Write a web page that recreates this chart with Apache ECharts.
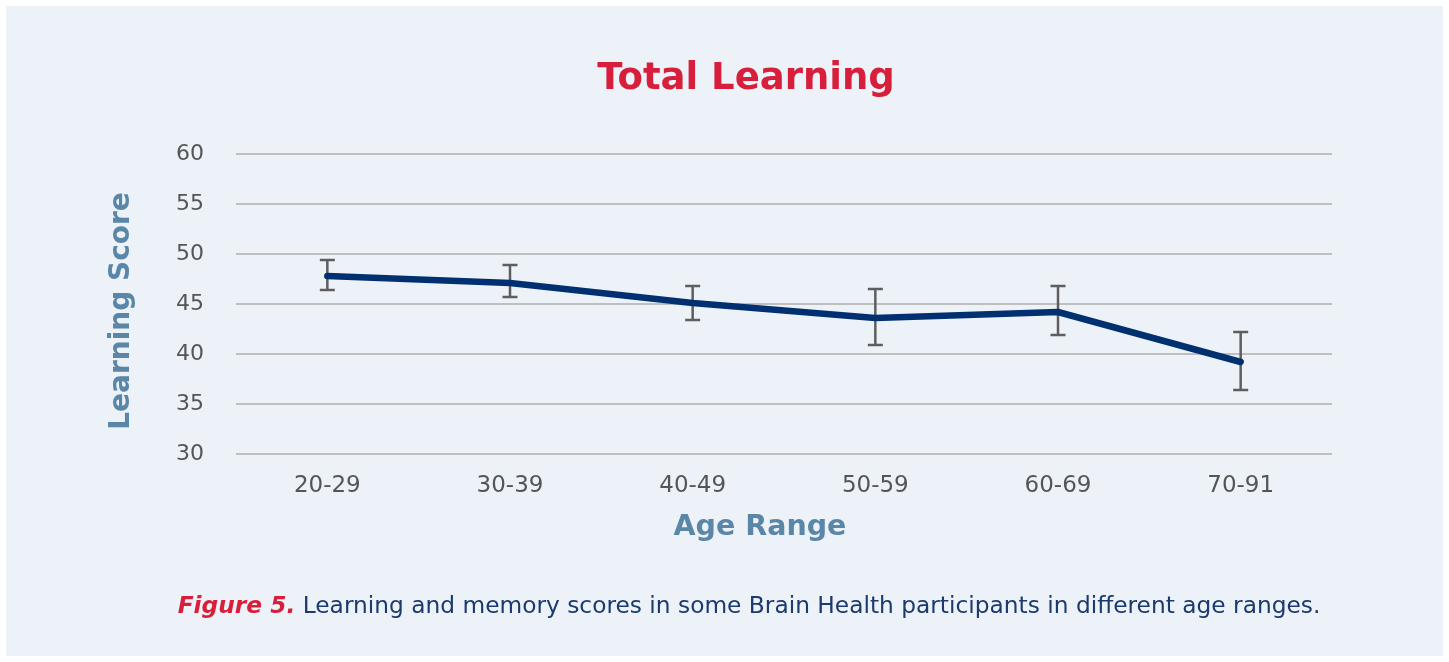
<!DOCTYPE html>
<html>
<head>
<meta charset="utf-8">
<script src="https://cdn.jsdelivr.net/npm/echarts@6/dist/echarts.min.js"></script>
<style>
html,body{margin:0;padding:0;background:#ffffff;}
#panel{position:absolute;left:6px;top:6px;width:1437px;height:650px;background:#EDF2F9;}
#chart{position:absolute;left:0;top:0;width:1449px;height:662px;}
</style>
</head>
<body>
<div id="panel"></div>
<div id="chart"></div>
<script>
const categories = ['20-29', '30-39', '40-49', '50-59', '60-69', '70-91'];
const meanScores = [47.8, 47.1, 45.1, 43.6, 44.2, 39.2];
const errorLow = [46.4, 45.7, 43.4, 40.9, 41.9, 36.4];
const errorHigh = [49.4, 48.9, 46.8, 46.5, 46.8, 42.2];
const yTicks = [30, 35, 40, 45, 50, 55, 60];
const titleText = 'Total Learning';
const yAxisTitle = 'Learning Score';
const xAxisTitle = 'Age Range';
const captionLead = 'Figure 5.';
const captionBody = ' Learning and memory scores in some Brain Health participants in different age ranges.';

const FONT = '"DejaVu Sans", sans-serif';
const errorData = categories.map((c, i) => [i, errorLow[i], errorHigh[i]]);

const chart = echarts.init(document.getElementById('chart'), null, {renderer: 'canvas'});
chart.setOption({
  backgroundColor: 'transparent',
  animation: false,
  grid: {left: 236, right: 117, top: 154, bottom: 208, containLabel: false},
  xAxis: {
    type: 'category',
    data: categories,
    boundaryGap: true,
    axisLine: {show: false},
    axisTick: {show: false},
    axisLabel: {color: '#555555', fontSize: 23, margin: 21, fontFamily: FONT}
  },
  yAxis: {
    type: 'value',
    min: yTicks[0],
    max: yTicks[yTicks.length - 1],
    interval: 5,
    axisLine: {show: false},
    axisTick: {show: false},
    axisLabel: {color: '#555555', fontSize: 22, margin: 32, fontFamily: FONT},
    splitLine: {lineStyle: {color: '#BFBFBF', width: 2}}
  },
  series: [
    {
      type: 'custom',
      z: 2,
      data: errorData,
      renderItem: function (params, api) {
        const x = api.value(0);
        const lo = api.coord([x, api.value(1)]);
        const hi = api.coord([x, api.value(2)]);
        const hw = 7.5;
        const st = {stroke: '#5E5E5E', lineWidth: 2.5};
        return {
          type: 'group',
          children: [
            {type: 'line', shape: {x1: hi[0], y1: hi[1], x2: lo[0], y2: lo[1]}, style: st},
            {type: 'line', shape: {x1: hi[0] - hw, y1: hi[1], x2: hi[0] + hw, y2: hi[1]}, style: st},
            {type: 'line', shape: {x1: lo[0] - hw, y1: lo[1], x2: lo[0] + hw, y2: lo[1]}, style: st}
          ]
        };
      }
    },
    {
      type: 'line',
      z: 3,
      data: meanScores,
      symbol: 'none',
      lineStyle: {color: '#003070', width: 6.5, cap: 'round', join: 'round'},
      itemStyle: {color: '#003070'}
    }
  ],
  graphic: [
    {
      type: 'text', x: 746, y: 79,
      style: {text: titleText, textAlign: 'center', textVerticalAlign: 'middle',
        fill: '#D71F3C', fontSize: 37, fontWeight: 'bold', fontFamily: FONT}
    },
    {
      type: 'text', x: 760, y: 528,
      style: {text: xAxisTitle, textAlign: 'center', textVerticalAlign: 'middle',
        fill: '#5A87A8', fontSize: 28.5, fontWeight: 'bold', fontFamily: FONT}
    },
    {
      type: 'text', x: 122, y: 311, rotation: Math.PI / 2,
      style: {text: yAxisTitle, textAlign: 'center', textVerticalAlign: 'middle',
        fill: '#5A87A8', fontSize: 28, fontWeight: 'bold', fontFamily: FONT}
    },
    {
      type: 'text', x: 749, y: 607,
      style: {
        text: '{a|' + captionLead + '}{b|' + captionBody + '}',
        textAlign: 'center', textVerticalAlign: 'middle',
        rich: {
          a: {fill: '#D71F3C', fontSize: 23.3, fontWeight: 'bold', fontStyle: 'italic', fontFamily: FONT},
          b: {fill: '#1B3A6E', fontSize: 23.3, fontFamily: FONT}
        }
      }
    }
  ]
});
</script>
</body>
</html>
